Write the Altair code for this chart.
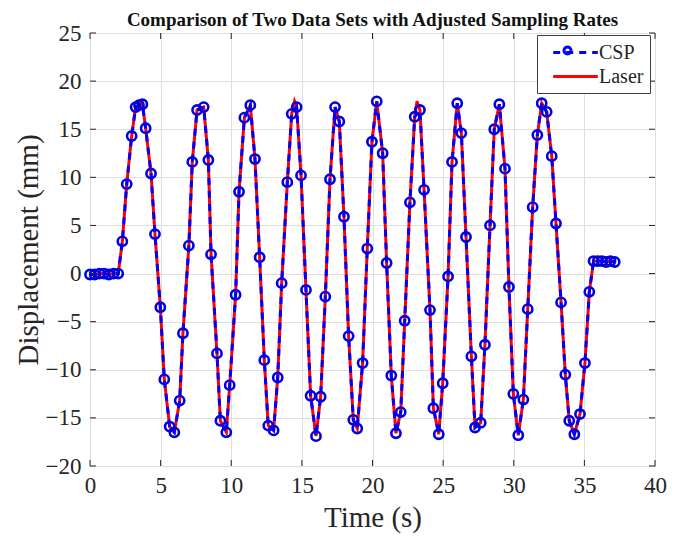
import altair as alt
import pandas as pd

# ---- data ----
csp_t = [0.0, 0.33, 0.67, 1.0, 1.33, 1.67, 2.0,
         2.29, 2.60, 2.95, 3.23, 3.47, 3.71, 3.94, 4.32, 4.60, 4.98, 5.26, 5.64, 5.97,
         6.35, 6.58, 7.00, 7.24, 7.58, 8.05, 8.38, 8.57, 8.99, 9.23, 9.65, 9.89,
         10.31, 10.55, 10.93, 11.35, 11.68, 12.01, 12.34, 12.62, 13.00, 13.29, 13.57,
         13.97, 14.28, 14.63, 14.94, 15.29, 15.62, 16.00, 16.33, 16.66, 16.99, 17.35,
         17.65, 17.98, 18.31, 18.64, 18.92, 19.30, 19.63, 19.96, 20.30, 20.72, 21.00,
         21.33, 21.66, 22.00, 22.28, 22.65, 22.99, 23.36, 23.65, 24.07, 24.31, 24.69,
         24.97, 25.35, 25.63, 26.00, 26.29, 26.62, 27.00, 27.26, 27.66, 27.96, 28.32,
         28.62, 28.98, 29.38, 29.66, 29.97, 30.32, 30.68, 30.99, 31.34, 31.67, 31.98,
         32.33, 32.69, 32.99, 33.35, 33.65, 33.93, 34.29, 34.69, 35.04, 35.35,
         35.65, 35.95, 36.25, 36.55, 36.85, 37.15]
csp_y = [-0.1, -0.1, 0.0, 0.0, -0.1, 0.0, 0.0,
         3.35, 9.3, 14.3, 17.3, 17.5, 17.6, 15.1, 10.4, 4.1, -3.5, -11.0, -15.9, -16.5,
         -13.2, -6.2, 2.9, 11.6, 17.0, 17.3, 11.8, 2.0, -8.3, -15.3, -16.5, -11.6,
         -2.2, 8.5, 16.2, 17.5, 11.9, 1.7, -9.0, -15.8, -16.3, -10.8, -1.0,
         9.5, 16.6, 17.3, 10.2, -1.7, -12.7, -16.9, -12.8, -2.4, 9.8, 17.3,
         15.8, 5.9, -6.5, -15.2, -16.1, -9.3, 2.6, 13.7, 17.9, 12.5, 1.1,
         -10.6, -16.6, -14.4, -4.9, 7.4, 16.3, 17.0, 8.7, -3.8, -14.0, -16.7,
         -11.4, -0.3, 11.6, 17.7, 14.6, 3.8, -8.6, -16.0, -15.5, -7.4, 5.0,
         15.0, 17.6, 10.9, -1.4, -12.5, -16.8, -13.1, -3.7, 6.9, 14.4, 17.7,
         16.8, 12.2, 5.2, -3.0, -10.5, -15.3, -16.7, -14.6, -9.3, -1.9,
         1.3, 1.3, 1.3, 1.2, 1.3, 1.2]

# laser trace: follows the CSP samples, with its sharper peaks where the red line pokes out
laser_peak_t = [3.60, 14.48, 23.15]
laser_peak_y = [17.8, 17.9, 17.9]

x_ticks = [0, 5, 10, 15, 20, 25, 30, 35, 40]
y_ticks = [-20, -15, -10, -5, 0, 5, 10, 15, 20, 25]

W, H = 565, 433
FONT = "Liberation Serif, Times New Roman, Times, serif"
BLUE = "#0000FF"
RED = "#FF0000"
DARK = "#262626"

df_csp = pd.DataFrame({"t": csp_t, "y": csp_y, "series": "CSP"})
df_laser = pd.concat([
    pd.DataFrame({"t": csp_t, "y": csp_y}),
    pd.DataFrame({"t": laser_peak_t, "y": laser_peak_y}),
]).sort_values("t")
df_laser["series"] = "Laser"

xs = alt.Scale(domain=[0, 40], nice=False, zero=False)
ys = alt.Scale(domain=[-20, 25], nice=False, zero=False)
color_scale = alt.Scale(domain=["CSP", "Laser"], range=[BLUE, RED])
dash_scale = alt.Scale(domain=["CSP", "Laser"], range=[[7, 6], [1, 0]])

legend = alt.Legend(
    title=None, orient="none", legendX=447, legendY=2,
    symbolType="M-2.23,0H2.23", symbolSize=400, symbolStrokeWidth=3,
    labelFont=FONT, labelFontSize=20, labelColor=DARK,
    strokeColor="#404040", fillColor="white", padding=6,
    rowPadding=2, labelOffset=12, symbolOffset=21,
)

# circle marker drawn over the CSP legend line
marker_legend = alt.Legend(
    title=None, orient="none", legendX=472, legendY=12,
    symbolType="circle", symbolSize=50, symbolStrokeWidth=3,
    symbolStrokeColor=BLUE, symbolFillColor="transparent",
    labelExpr="''", labelFontSize=1, padding=0,
)

x_axis = alt.Axis(values=x_ticks, title="Time (s)", grid=True, labelPadding=8,
                  labelFlush=False, titleY=51, titleBaseline="middle")
y_axis = alt.Axis(values=y_ticks, title="Displacement (mm)", grid=True, labelPadding=9,
                  labelFlush=False, titleX=-62, titleY=H / 2, titleBaseline="middle",
                  titleAlign="center")

X = alt.X("t:Q", scale=xs, axis=x_axis)
Y = alt.Y("y:Q", scale=ys, axis=y_axis)

laser = alt.Chart(df_laser).mark_line(strokeWidth=3).encode(
    x=X, y=Y,
    color=alt.Color("series:N", scale=color_scale, legend=legend),
    strokeDash=alt.StrokeDash("series:N", scale=dash_scale, legend=legend),
)

csp_line = alt.Chart(df_csp).mark_line(strokeWidth=3).encode(
    x=X, y=Y,
    color=alt.Color("series:N", scale=color_scale, legend=legend),
    strokeDash=alt.StrokeDash("series:N", scale=dash_scale, legend=legend),
)

csp_pts = alt.Chart(df_csp).mark_point(filled=False, size=85, strokeWidth=2.6, opacity=1).encode(
    x=X, y=Y,
    color=alt.value("#0000E0"),
    shape=alt.Shape("series:N", scale=alt.Scale(domain=["CSP"], range=["circle"]),
                    legend=marker_legend),
)

yt = pd.DataFrame({"y": y_ticks})
xt = pd.DataFrame({"t": x_ticks})
tick_style = dict(color=DARK, strokeWidth=1)
ticks = [
    alt.Chart(yt).mark_rule(**tick_style).encode(y=Y, x=alt.value(0), x2=alt.value(6)),
    alt.Chart(yt).mark_rule(**tick_style).encode(y=Y, x=alt.value(W - 6), x2=alt.value(W)),
    alt.Chart(xt).mark_rule(**tick_style).encode(x=X, y=alt.value(H), y2=alt.value(H - 6)),
    alt.Chart(xt).mark_rule(**tick_style).encode(x=X, y=alt.value(0), y2=alt.value(6)),
]

chart = alt.layer(laser, csp_line, csp_pts, *ticks).properties(
    width=W, height=H,
    title=alt.TitleParams(
        "Comparison of Two Data Sets with Adjusted Sampling Rates",
        font=FONT, fontSize=19, fontWeight="bold", color="#111111",
        anchor="middle", offset=5, dy=13,
    ),
    autosize=alt.AutoSizeParams(type="none"),
    padding={"left": 82, "top": 25, "right": 21, "bottom": 67},
).configure_view(
    stroke=DARK, strokeWidth=1
).configure_axis(
    labelFont=FONT, labelFontSize=23, labelColor=DARK,
    titleFont=FONT, titleFontSize=29, titleFontWeight="normal", titleColor=DARK,
    gridColor="#DEDEDE", gridWidth=1, domain=False, ticks=False,
)

chart.save("out.html", embed_options={"renderer": "svg", "actions": False})
